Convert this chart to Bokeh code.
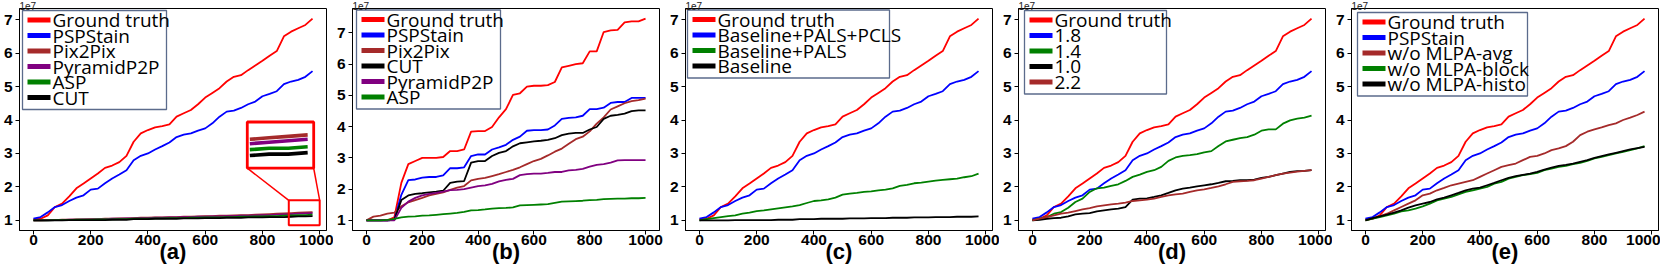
from bokeh.plotting import figure
from bokeh.layouts import row
from bokeh.models import Range1d, Label, BoxAnnotation, FixedTicker
from bokeh.embed import file_html
from bokeh.resources import INLINE

# ---------------- data (values in units of 1e7) ----------------
X_975 = list(range(0, 1000, 25))    # 0 .. 975
X_1000 = list(range(0, 1001, 25))   # 0 .. 1000
X_TICKS = [0, 200, 400, 600, 800, 1000]
Y_TICKS = [1, 2, 3, 4, 5, 6, 7]

GT = [1.03, 1.05, 1.15, 1.40, 1.50, 1.72, 1.96, 2.10, 2.25, 2.40,
      2.57, 2.64, 2.74, 2.93, 3.35, 3.60, 3.70, 3.78, 3.82, 3.87,
      4.10, 4.20, 4.30, 4.47, 4.67, 4.81, 4.95, 5.15, 5.29, 5.34,
      5.49, 5.63, 5.77, 5.92, 6.06, 6.50, 6.64, 6.74, 6.84, 7.03]
PSP = [1.05, 1.10, 1.24, 1.40, 1.46, 1.58, 1.68, 1.75, 1.92, 1.95,
       2.11, 2.25, 2.37, 2.50, 2.80, 2.93, 3.00, 3.12, 3.22, 3.33,
       3.49, 3.56, 3.60, 3.68, 3.75, 3.90, 4.10, 4.25, 4.28, 4.36,
       4.47, 4.55, 4.71, 4.78, 4.86, 5.07, 5.15, 5.20, 5.29, 5.46]

# panel (a)
PIX2PIX_A = [1.00, 1.00, 1.01, 1.01, 1.02, 1.02, 1.03, 1.03, 1.04, 1.04,
             1.05, 1.05, 1.06, 1.06, 1.07, 1.08, 1.08, 1.09, 1.09, 1.10,
             1.10, 1.11, 1.11, 1.12, 1.13, 1.13, 1.14, 1.14, 1.15, 1.16,
             1.16, 1.17, 1.18, 1.19, 1.20, 1.21, 1.22, 1.23, 1.24, 1.25]
PYRAMID_A = [1.00, 1.00, 1.00, 1.01, 1.01, 1.02, 1.02, 1.03, 1.03, 1.04,
             1.04, 1.05, 1.05, 1.06, 1.06, 1.07, 1.07, 1.08, 1.08, 1.09,
             1.09, 1.10, 1.10, 1.11, 1.11, 1.12, 1.12, 1.13, 1.13, 1.14,
             1.14, 1.15, 1.16, 1.16, 1.17, 1.18, 1.19, 1.20, 1.21, 1.22]
ASP_A = [1.00, 1.00, 1.00, 1.01, 1.01, 1.01, 1.02, 1.02, 1.02, 1.03,
         1.03, 1.03, 1.04, 1.04, 1.05, 1.05, 1.05, 1.06, 1.06, 1.07,
         1.07, 1.07, 1.08, 1.08, 1.09, 1.09, 1.09, 1.10, 1.10, 1.11,
         1.11, 1.12, 1.12, 1.13, 1.13, 1.14, 1.15, 1.16, 1.16, 1.17]
CUT_A = [1.00, 1.00, 1.00, 1.00, 1.00, 1.01, 1.01, 1.01, 1.01, 1.01,
         1.01, 1.02, 1.02, 1.02, 1.04, 1.04, 1.04, 1.05, 1.05, 1.05,
         1.05, 1.06, 1.06, 1.06, 1.07, 1.07, 1.07, 1.08, 1.08, 1.08,
         1.09, 1.09, 1.09, 1.10, 1.10, 1.10, 1.11, 1.12, 1.12, 1.13]

# panel (b)
GT_B = [1.00, 1.00, 1.00, 1.00, 1.10, 2.20, 2.80, 2.90, 3.00, 3.00,
        3.00, 3.03, 3.22, 3.22, 3.27, 3.84, 3.86, 3.86, 3.99, 4.30,
        4.56, 5.02, 5.07, 5.28, 5.31, 5.31, 5.33, 5.43, 5.90, 5.95,
        6.00, 6.03, 6.41, 6.41, 7.03, 7.08, 7.10, 7.34, 7.37, 7.37, 7.46]
PSP_B = [1.00, 1.00, 1.00, 1.00, 1.02, 1.82, 2.29, 2.31, 2.37, 2.39,
         2.39, 2.44, 2.67, 2.67, 2.70, 3.06, 3.11, 3.11, 3.27, 3.34,
         3.42, 3.58, 3.68, 3.87, 3.89, 3.89, 3.91, 4.04, 4.25, 4.28,
         4.30, 4.35, 4.56, 4.56, 4.61, 4.76, 4.79, 4.79, 4.92, 4.92, 4.92]
PIX2PIX_B = [1.00, 1.12, 1.15, 1.22, 1.25, 1.45, 1.58, 1.65, 1.72, 1.80,
             1.85, 1.90, 1.98, 2.05, 2.10, 2.28, 2.33, 2.36, 2.42, 2.48,
             2.55, 2.62, 2.70, 2.80, 2.90, 2.97, 3.08, 3.20, 3.30, 3.45,
             3.60, 3.68, 3.85, 4.10, 4.30, 4.55, 4.65, 4.75, 4.82, 4.85, 4.90]
CUT_B = [1.00, 1.00, 1.00, 1.00, 1.02, 1.65, 1.80, 1.85, 1.87, 1.90,
         1.92, 1.95, 2.20, 2.24, 2.26, 2.85, 2.90, 2.90, 3.06, 3.16,
         3.22, 3.37, 3.47, 3.50, 3.53, 3.55, 3.58, 3.63, 3.73, 3.78,
         3.80, 3.80, 3.91, 3.99, 4.25, 4.35, 4.38, 4.42, 4.50, 4.52, 4.52]
PYRAMID_B = [1.00, 1.00, 1.00, 1.00, 1.00, 1.40, 1.60, 1.72, 1.80, 1.85,
             1.88, 1.92, 1.97, 1.98, 2.00, 2.05, 2.10, 2.12, 2.17, 2.25,
             2.30, 2.33, 2.45, 2.48, 2.50, 2.50, 2.52, 2.55, 2.55, 2.60,
             2.62, 2.65, 2.72, 2.78, 2.80, 2.85, 2.92, 2.93, 2.93, 2.93, 2.93]
ASP_B = [1.00, 1.00, 1.00, 1.02, 1.05, 1.10, 1.12, 1.13, 1.15, 1.16,
         1.18, 1.20, 1.22, 1.24, 1.27, 1.32, 1.33, 1.35, 1.38, 1.39,
         1.40, 1.42, 1.48, 1.49, 1.50, 1.51, 1.52, 1.56, 1.60, 1.61,
         1.62, 1.63, 1.65, 1.66, 1.68, 1.69, 1.70, 1.70, 1.71, 1.71, 1.72]

# panel (c)
PALS_C = [1.00, 1.04, 1.07, 1.10, 1.13, 1.15, 1.20, 1.23, 1.28, 1.30,
          1.33, 1.36, 1.39, 1.42, 1.46, 1.52, 1.58, 1.60, 1.63, 1.68,
          1.77, 1.80, 1.82, 1.85, 1.87, 1.90, 1.92, 1.96, 2.03, 2.06,
          2.11, 2.13, 2.16, 2.19, 2.21, 2.23, 2.25, 2.29, 2.32, 2.40]
BASE_C = [1.00, 1.00, 1.00, 1.00, 1.00, 1.01, 1.01, 1.01, 1.01, 1.01,
          1.01, 1.02, 1.02, 1.02, 1.04, 1.04, 1.04, 1.05, 1.05, 1.05,
          1.05, 1.06, 1.06, 1.06, 1.07, 1.07, 1.07, 1.08, 1.08, 1.08,
          1.09, 1.09, 1.09, 1.10, 1.10, 1.10, 1.11, 1.11, 1.11, 1.12]

# panel (d)
V14_D = [1.00, 1.05, 1.10, 1.20, 1.25, 1.38, 1.55, 1.65, 1.85, 1.96,
         1.98, 2.03, 2.08, 2.18, 2.30, 2.37, 2.45, 2.50, 2.60, 2.78,
         2.88, 2.93, 2.95, 2.98, 3.03, 3.07, 3.22, 3.36, 3.41, 3.46,
         3.49, 3.56, 3.68, 3.72, 3.72, 3.89, 3.99, 4.04, 4.07, 4.13]
V10_D = [1.00, 1.02, 1.05, 1.07, 1.08, 1.12, 1.18, 1.20, 1.22, 1.27,
         1.30, 1.33, 1.35, 1.40, 1.62, 1.65, 1.66, 1.70, 1.75, 1.82,
         1.90, 1.95, 1.98, 2.02, 2.05, 2.08, 2.12, 2.17, 2.18, 2.20,
         2.20, 2.22, 2.27, 2.30, 2.35, 2.40, 2.45, 2.47, 2.48, 2.50]
V22_D = [1.00, 1.05, 1.10, 1.15, 1.20, 1.23, 1.28, 1.33, 1.37, 1.42,
         1.45, 1.48, 1.50, 1.53, 1.58, 1.60, 1.62, 1.65, 1.70, 1.75,
         1.78, 1.80, 1.85, 1.90, 1.93, 1.97, 2.02, 2.08, 2.15, 2.17,
         2.18, 2.20, 2.25, 2.30, 2.35, 2.40, 2.43, 2.46, 2.48, 2.50]

# panel (e)
AVG_E = [1.00, 1.05, 1.12, 1.20, 1.30, 1.40, 1.50, 1.60, 1.75, 1.80,
         1.90, 1.97, 2.05, 2.10, 2.15, 2.20, 2.30, 2.40, 2.50, 2.60,
         2.65, 2.70, 2.80, 2.90, 2.93, 3.00, 3.10, 3.15, 3.22, 3.35,
         3.55, 3.65, 3.72, 3.78, 3.85, 3.90, 4.00, 4.07, 4.15, 4.25]
BLOCK_E = [1.00, 1.05, 1.10, 1.15, 1.20, 1.27, 1.30, 1.35, 1.42, 1.50,
           1.60, 1.65, 1.70, 1.78, 1.85, 1.90, 1.95, 2.00, 2.10, 2.15,
           2.25, 2.30, 2.35, 2.38, 2.42, 2.50, 2.55, 2.60, 2.63, 2.68,
           2.72, 2.78, 2.85, 2.90, 2.95, 3.00, 3.05, 3.10, 3.15, 3.22]
HISTO_E = [1.00, 1.07, 1.12, 1.17, 1.23, 1.30, 1.38, 1.45, 1.50, 1.55,
           1.63, 1.68, 1.75, 1.82, 1.90, 1.95, 1.98, 2.05, 2.12, 2.20,
           2.27, 2.32, 2.36, 2.40, 2.45, 2.52, 2.58, 2.63, 2.66, 2.70,
           2.75, 2.80, 2.87, 2.92, 2.97, 3.02, 3.07, 3.12, 3.16, 3.20]

# ---------------- style ----------------
RED, BLUE, BROWN, PURPLE, GREEN, BLACK = "#ff0000", "#0000ff", "#a52a2a", "#800080", "#008000", "#000000"
LEGEND_FONT = "Open Sans"
AXIS_FONT = "Liberation Sans"
B_TOP, B_BOTTOM, B_LEFT = 4, 39, 16
FRAME_W, FRAME_H = 307, 222
ROW0, ROW_STEP = 9.5, 15.5


def make_panel(tag, xs, series, legend_pos, border_right):
    allv = [v for _, vals, _ in series for v in vals]
    ymin, ymax = min(allv), max(allv)
    ypad = 0.05 * (ymax - ymin)
    xpad = 0.05 * (max(xs) - min(xs))
    x0, x1 = min(xs) - xpad, max(xs) + xpad
    y0, y1 = ymin - ypad, ymax + ypad
    p = figure(frame_width=FRAME_W, frame_height=FRAME_H,
               x_range=Range1d(x0, x1), y_range=Range1d(y0, y1),
               output_backend="svg", toolbar_location=None,
               min_border_left=B_LEFT, min_border_right=border_right,
               min_border_top=B_TOP, min_border_bottom=B_BOTTOM)
    p.grid.visible = False
    p.outline_line_color = "black"
    p.outline_line_alpha = 1
    p.outline_line_width = 1
    p.background_fill_color = "white"
    p.border_fill_color = "white"

    # "1e7" offset text, as the title
    p.title.text = "1e7"
    p.title.align = "left"
    p.title.text_font = AXIS_FONT
    p.title.text_font_size = "10px"
    p.title.text_font_style = "normal"
    p.title.text_color = "#222222"
    p.title.standoff = -2

    for ax in (p.xaxis, p.yaxis):
        ax.major_tick_in = 0
        ax.major_tick_out = 4
        ax.minor_tick_line_color = None
        ax.axis_line_color = "black"
        ax.major_tick_line_color = "black"
        ax.major_label_text_font = AXIS_FONT
        ax.major_label_text_font_style = "bold"
        ax.major_label_text_font_size = "15.5px"
        ax.major_label_text_color = "black"
    p.xaxis.major_label_standoff = 0
    p.yaxis.major_label_standoff = 3
    p.xaxis.ticker = FixedTicker(ticks=X_TICKS)
    p.yaxis.ticker = FixedTicker(ticks=Y_TICKS)

    # caption "(a)" ... as the x axis label
    p.xaxis.axis_label = tag
    p.xaxis.axis_label_text_font = AXIS_FONT
    p.xaxis.axis_label_text_font_size = "22px"
    p.xaxis.axis_label_text_font_style = "bold"
    p.xaxis.axis_label_text_color = "black"
    p.xaxis.axis_label_standoff = -9

    for name, vals, color in series:
        p.line(xs, vals, line_color=color, line_width=1.8)

    # legend (drawn by hand for the tight matplotlib-like spacing)
    bx, by, bw = legend_pos
    n = len(series)
    bh = ROW0 + ROW_STEP * (n - 1) + 12
    top = FRAME_H - by
    p.add_layout(BoxAnnotation(left=bx, right=bx + bw, top=top, bottom=top - bh,
                               left_units="screen", right_units="screen",
                               top_units="screen", bottom_units="screen",
                               fill_color="white", fill_alpha=1,
                               line_color="#5b6b8c", line_width=1.3, line_alpha=1))
    for i, (name, vals, color) in enumerate(series):
        cy = top - ROW0 - ROW_STEP * i
        p.add_layout(BoxAnnotation(left=bx + 5, right=bx + 28, top=cy + 2.4, bottom=cy - 2.4,
                                   left_units="screen", right_units="screen",
                                   top_units="screen", bottom_units="screen",
                                   fill_color=color, fill_alpha=1, line_color=None))
        p.add_layout(Label(x=bx + 30, y=cy, x_units="screen", y_units="screen", text=name,
                           text_baseline="middle", text_font=LEGEND_FONT, text_font_size="19px",
                           text_color="black"))
    return p


# (a)
series_a = [("Ground truth", GT, RED), ("PSPStain", PSP, BLUE), ("Pix2Pix", PIX2PIX_A, BROWN),
            ("PyramidP2P", PYRAMID_A, PURPLE), ("ASP", ASP_A, GREEN), ("CUT", CUT_A, BLACK)]
pa = make_panel("(a)", X_975, series_a, (3, 2, 144), 7)

# zoom inset of panel (a)
pa.add_layout(BoxAnnotation(left=892, right=1000, bottom=0.855, top=1.6, fill_alpha=0,
                            line_color=RED, line_width=2, line_alpha=1))
pa.add_layout(BoxAnnotation(left=747, right=979, bottom=2.56, top=3.94, fill_color="white",
                            fill_alpha=1, line_color=RED, line_width=2.8, line_alpha=1,
                            level="underlay"))
pa.segment(x0=[892, 1000], y0=[1.6, 1.6], x1=[747, 979], y1=[2.56, 2.56],
           line_color=RED, line_width=1.5)
IN_X0, IN_XS, IN_Y0, IN_YS = 756, 2.693, 3.556, 4.42
for name, vals, color in series_a[2:]:
    xs_in = [IN_X0 + (x - 900) * IN_XS for x in X_975 if x >= 900]
    ys_in = [IN_Y0 + (v - 1.25) * IN_YS for x, v in zip(X_975, vals) if x >= 900]
    pa.line(xs_in, ys_in, line_color=color, line_width=3.6)

# (b)
series_b = [("Ground truth", GT_B, RED), ("PSPStain", PSP_B, BLUE), ("Pix2Pix", PIX2PIX_B, BROWN),
            ("CUT", CUT_B, BLACK), ("PyramidP2P", PYRAMID_B, PURPLE), ("ASP", ASP_B, GREEN)]
pb = make_panel("(b)", X_1000, series_b, (4, 1.5, 144), 7)

# (c)
series_c = [("Ground truth", GT, RED), ("Baseline+PALS+PCLS", PSP, BLUE),
            ("Baseline+PALS", PALS_C, GREEN), ("Baseline", BASE_C, BLACK)]
pc = make_panel("(c)", X_975, series_c, (2, 1.5, 202), 7)

# (d)
series_d = [("Ground truth", GT, RED), ("1.8", PSP, BLUE), ("1.4", V14_D, GREEN),
            ("1.0", V10_D, BLACK), ("2.2", V22_D, BROWN)]
pd_ = make_panel("(d)", X_975, series_d, (6, 2, 142), 7)

# (e)
series_e = [("Ground truth", GT, RED), ("PSPStain", PSP, BLUE), ("w/o MLPA-avg", AVG_E, BROWN),
            ("w/o MLPA-block", BLOCK_E, GREEN), ("w/o MLPA-histo", HISTO_E, BLACK)]
pe = make_panel("(e)", X_975, series_e, (6, 4, 170), 2)

layout = row(pa, pb, pc, pd_, pe)
open("out.html", "w").write(file_html(layout, INLINE))
